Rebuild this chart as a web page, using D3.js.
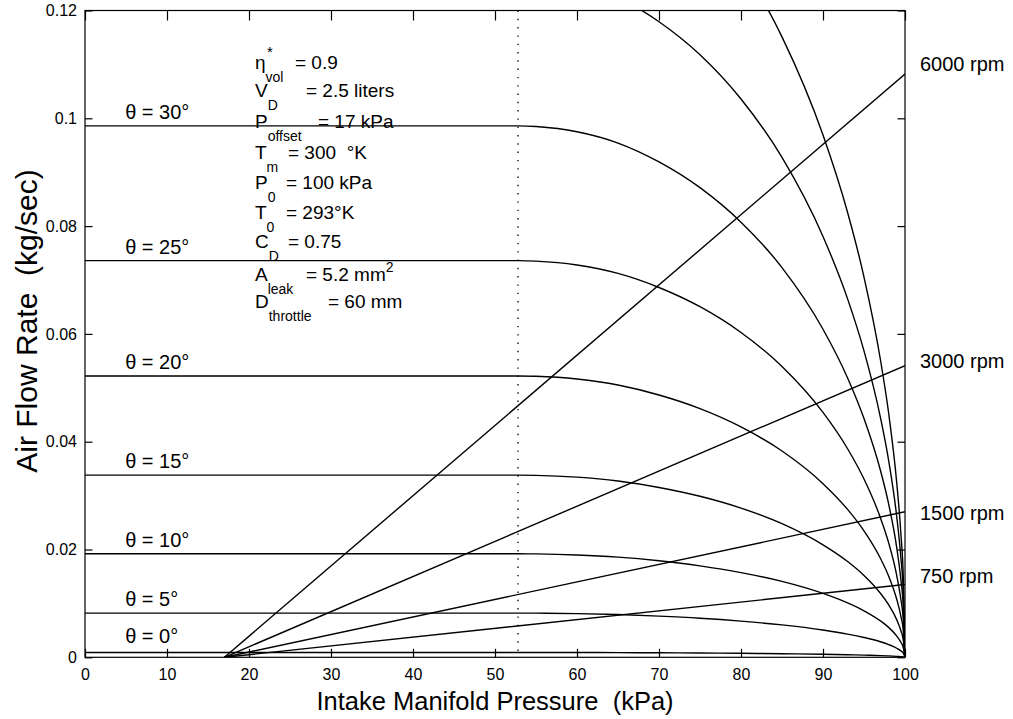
<!DOCTYPE html>
<html><head><meta charset="utf-8">
<script src="https://cdn.jsdelivr.net/npm/d3@7"></script>
<style>body{margin:0;background:#fff}svg{display:block}text{font-family:"Liberation Sans",Arial,Helvetica,sans-serif;fill:#000;white-space:pre}</style>
</head><body><svg id="c" width="1013" height="719"></svg>
<script>
// ---- data ----
const pressure = [0, 52.8, 55, 60, 65, 70, 75, 80, 85, 90, 93, 95, 97, 98, 99, 99.5, 99.8, 100];
const theta0  = [0.0009, 0.0009, 0.0009, 0.00089, 0.00087, 0.00084, 0.0008, 0.00074, 0.00066, 0.00056, 0.00047, 0.0004, 0.00032, 0.00026, 0.00018, 0.00013, 0.00008, 0];
const theta5  = [0.0082, 0.0082, 0.00819, 0.00811, 0.00793, 0.00764, 0.00725, 0.00671, 0.00601, 0.00506, 0.00431, 0.00368, 0.00289, 0.00237, 0.00168, 0.00119, 0.00076, 0];
const theta10 = [0.0192, 0.0192, 0.01918, 0.01899, 0.01858, 0.0179, 0.01697, 0.01572, 0.01408, 0.01185, 0.01009, 0.00863, 0.00676, 0.00555, 0.00394, 0.0028, 0.00177, 0];
const theta15 = [0.0338, 0.0338, 0.03376, 0.03342, 0.0327, 0.03151, 0.02987, 0.02768, 0.02478, 0.02086, 0.01777, 0.01519, 0.01189, 0.00977, 0.00694, 0.00492, 0.00312, 0];
const theta20 = [0.0522, 0.0522, 0.05213, 0.05162, 0.05051, 0.04866, 0.04613, 0.04274, 0.03827, 0.03222, 0.02744, 0.02345, 0.01837, 0.01509, 0.01072, 0.00761, 0.00482, 0];
const theta25 = [0.0736, 0.0736, 0.0735, 0.07278, 0.07122, 0.06861, 0.06504, 0.06026, 0.05396, 0.04543, 0.03869, 0.03307, 0.0259, 0.02127, 0.01512, 0.01072, 0.00679, 0];
const theta30 = [0.0986, 0.0986, 0.09847, 0.09751, 0.09541, 0.09191, 0.08713, 0.08073, 0.07229, 0.06086, 0.05183, 0.0443, 0.0347, 0.0285, 0.02025, 0.01437, 0.0091, 0];
const theta35 = [0.1265, 0.1265, 0.12634, 0.1251, 0.1224, 0.11792, 0.11179, 0.10358, 0.09275, 0.07808, 0.0665, 0.05684, 0.04452, 0.03656, 0.02598, 0.01843, 0.01167, 0];
const theta40 = [0.157, 0.157, 0.1568, 0.15526, 0.15191, 0.14636, 0.13874, 0.12855, 0.11511, 0.0969, 0.08253, 0.07054, 0.05525, 0.04537, 0.03225, 0.02287, 0.01449, 0];
const throttleCurves = [theta0, theta5, theta10, theta15, theta20, theta25, theta30, theta35, theta40];
const throttleLabels = ["θ = 0°", "θ = 5°", "θ = 10°", "θ = 15°", "θ = 20°", "θ = 25°", "θ = 30°"];

const speeds = ["750 rpm", "1500 rpm", "3000 rpm", "6000 rpm"];
const speedLineStart = [17, 17, 17, 17];          // kPa, flow = 0
const speedFlowAt100 = [0.0135, 0.027, 0.0541, 0.1082];

const criticalPressure = 52.8;
const xTicks = [0, 10, 20, 30, 40, 50, 60, 70, 80, 90, 100];
const yTicks = [0, 0.02, 0.04, 0.06, 0.08, 0.1, 0.12];
const yTickLabels = ["0", "0.02", "0.04", "0.06", "0.08", "0.1", "0.12"];

// ---- layout ----
const svg = d3.select("#c");
const L = 85, R = 905, T = 10.5, B = 657.3;
const x = d3.scaleLinear().domain([0, 100]).range([L, R]);
const y = d3.scaleLinear().domain([0, 0.12]).range([B, T]);

svg.append("clipPath").attr("id", "clip").append("rect")
  .attr("x", L).attr("y", T).attr("width", R - L).attr("height", B - T);
const plot = svg.append("g").attr("clip-path", "url(#clip)");

// dotted critical-pressure line
plot.append("line").attr("x1", x(criticalPressure)).attr("x2", x(criticalPressure))
  .attr("y1", T).attr("y2", B).attr("stroke", "#000").attr("stroke-width", 1.3)
  .attr("stroke-dasharray", "1.4 6.9");

const line = d3.line().x(d => x(d[0])).y(d => y(d[1])).curve(d3.curveMonotoneX);
throttleCurves.forEach(vals => {
  plot.append("path").attr("d", line(pressure.map((p, i) => [p, vals[i]])))
    .attr("fill", "none").attr("stroke", "#000").attr("stroke-width", 1.4);
});
speeds.forEach((s, i) => {
  plot.append("path").attr("d", d3.line().x(d => x(d[0])).y(d => y(d[1]))([[speedLineStart[i], 0], [100, speedFlowAt100[i]]]))
    .attr("fill", "none").attr("stroke", "#000").attr("stroke-width", 1.4);
});

// frame
svg.append("rect").attr("x", L).attr("y", T).attr("width", R - L).attr("height", B - T)
  .attr("fill", "none").attr("stroke", "#000").attr("stroke-width", 1.2);

// axes (inward ticks, mirrored)
const axB = d3.axisBottom(x).tickValues(xTicks).tickSize(-8.5).tickPadding(11).tickFormat(d3.format("d"));
const axT = d3.axisTop(x).tickValues(xTicks).tickSize(-10).tickFormat("");
const axL = d3.axisLeft(y).tickValues(yTicks).tickSize(-7.5).tickPadding(8).tickFormat((d, i) => yTickLabels[i]);
const axR = d3.axisRight(y).tickValues(yTicks).tickSize(-7.5).tickFormat("");
function styleAxis(g) {
  g.select(".domain").remove();
  g.selectAll(".tick line").attr("stroke", "#000").attr("stroke-width", 1.2);
  g.selectAll("text").attr("font-size", 16).attr("font-family", "Liberation Sans, Arial, sans-serif");
}
svg.append("g").attr("transform", `translate(0,${B})`).call(axB).call(styleAxis);
svg.append("g").attr("transform", `translate(0,${T})`).call(axT).call(styleAxis);
svg.append("g").attr("transform", `translate(${L},0)`).call(axL).call(styleAxis);
svg.append("g").attr("transform", `translate(${R},0)`).call(axR).call(styleAxis);

// axis titles
svg.append("text").attr("x", x(50)).attr("y", 710).attr("text-anchor", "middle")
  .attr("font-size", 25.5).text("Intake Manifold Pressure  (kPa)");
svg.append("text").attr("transform", `translate(37,321) rotate(-90)`).attr("text-anchor", "middle")
  .attr("font-size", 30).text("Air Flow Rate  (kg/sec)");

// throttle labels
throttleLabels.forEach((t, i) => {
  svg.append("text").attr("x", x(4.9)).attr("y", y(throttleCurves[i][0]) - (i === 0 ? 9 : 7))
    .attr("font-size", 20).text(t);
});
// speed labels
const speedDy = [-2, 8, 2, -3];
speeds.forEach((s, i) => {
  svg.append("text").attr("x", R + 15).attr("y", y(speedFlowAt100[i]) + speedDy[i])
    .attr("font-size", 20).text(s);
});

// parameter annotation block
const annot = [
  {m: "η", sub: "vol", sup: "*", rest: "= 0.9", rx: 295, by: 69},
  {m: "V", sub: "D", rest: "= 2.5 liters", rx: 306, by: 97},
  {m: "P", sub: "offset", rest: "= 17 kPa", rx: 318, by: 128},
  {m: "T", sub: "m", rest: "= 300  °K", rx: 288, by: 159},
  {m: "P", sub: "0", rest: "= 100 kPa", rx: 286, by: 189},
  {m: "T", sub: "0", rest: "= 293°K", rx: 286, by: 219},
  {m: "C", sub: "D", rest: "= 0.75", rx: 288, by: 248},
  {m: "A", sub: "leak", rest: "= 5.2 mm", rx: 306, by: 281, tail: "2"},
  {m: "D", sub: "throttle", rest: "= 60 mm", rx: 328, by: 308}
];
annot.forEach(a => {
  const t = svg.append("text").attr("x", 255).attr("y", a.by).attr("font-size", 19);
  t.append("tspan").text(a.m);
  t.append("tspan").attr("dy", 13).attr("font-size", 14).text(a.sub);
  t.append("tspan").attr("x", a.rx).attr("y", a.by).text(a.rest);
  if (a.tail) t.append("tspan").attr("dy", -9).attr("font-size", 14).text(a.tail);
  if (a.sup) svg.append("text").attr("x", 267).attr("y", a.by - 12).attr("font-size", 15).text(a.sup);
});
</script></body></html>
